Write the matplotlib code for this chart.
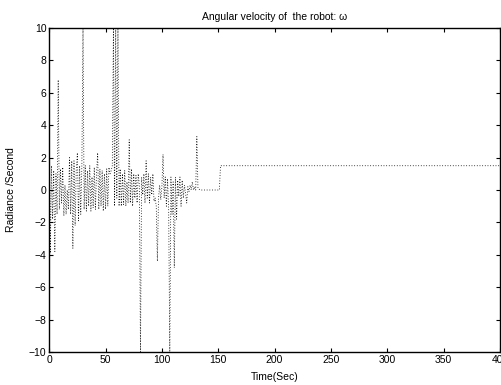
import matplotlib
matplotlib.use("Agg")
import matplotlib.pyplot as plt

# time samples (s) and angular velocity (rad/s)
time_sec = list(range(0, 133)) + [134, 151, 152, 400]

omega = [
    2.8, -3.9, 1.5, -1.8, 1.2, -3.8, 1.0, -1.5, 6.8, -1.2,
    1.3, -0.8, 1.4, -1.6, 0.3, -1.5, 0.0, -1.2, 2.0, -1.5,
    1.8, -3.6, 1.8, -2.2, 1.2, 2.3, -1.9, 1.5, -1.5, 1.6,
    10.0, -1.2, 1.5, -1.3, 1.2, -1.0, 1.5, -1.3, 0.8, -1.1,
    1.4, -1.2, 1.0, 2.3, -1.2, 1.3, -1.0, 1.2, -1.3, 1.0,
    -1.2, 1.3, -1.0, 1.4, 1.0, 1.2, 1.5, 10.0, -1.0, 10.0,
    -0.5, 10.0, -1.0, 1.3, -1.0, 1.0, -0.9, 1.2, -1.0, 0.5,
    -0.8, 3.1, -0.8, 1.3, -1.0, 1.0, -0.5, 0.9, -0.8, 1.0,
    0.3, -10.0, 0.8, -0.3, 1.0, -0.8, 1.8, -0.5, 1.0, -0.8,
    0.8, -0.3, 1.0, -0.7, -0.5, -1.0, -4.4, -0.5, 0.3, -0.6,
    0.2, 2.2, -0.5, 0.8, -1.0, 0.7, -1.2, -10.0, 0.8, -1.5,
    0.5, -4.8, 0.8, -1.8, 0.6, -0.4, 0.8, -1.0, 0.6, -0.5,
    0.3, -0.2, -0.8, 0.2, -0.1, 0.3, 0.0, 0.5, 0.0, 0.2,
    0.0, 3.3, 0.1, 0.0, 0.0, 1.5, 1.5,
]

x_ticks = list(range(0, 401, 50))
y_ticks = list(range(-10, 11, 2))

plt.rcParams["font.family"] = ["Liberation Sans", "DejaVu Sans"]

fig = plt.figure(figsize=(5.02, 3.85), dpi=100)
ax = fig.add_axes([0.098, 0.086, 0.898, 0.841])

ax.plot(time_sec, omega, color="black", linestyle=(0, (1, 2.2)),
        linewidth=0.6)

ax.set_xlim(0, 400)
ax.set_ylim(-10, 10)
ax.set_xticks(x_ticks)
ax.set_yticks(y_ticks)
ax.set_yticklabels([str(v).replace("-", "\u2212") for v in y_ticks])

ax.tick_params(direction="in", length=3, width=0.8, labelsize=7.5,
               top=True, right=True, pad=2)
for s in ax.spines.values():
    s.set_linewidth(1.0)

ax.set_title("Angular velocity of  the robot: \u03c9", fontsize=7.5, pad=6)
ax.set_xlabel("Time(Sec)", fontsize=7.5, labelpad=5)
ax.set_ylabel("Radiance /Second", fontsize=7.5, labelpad=9)

fig.savefig("out.png", dpi=100)
plt.close(fig)
